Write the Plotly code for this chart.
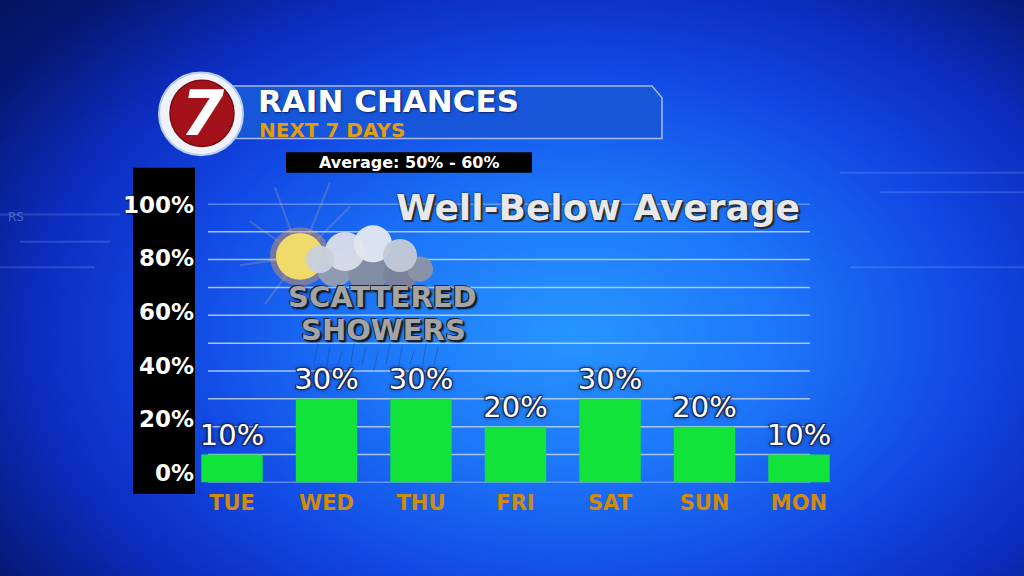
import base64, struct, zlib
import numpy as np
import plotly.graph_objects as go

# ---------------- data ----------------
days = ["TUE", "WED", "THU", "FRI", "SAT", "SUN", "MON"]
rain_chance = [10, 30, 30, 20, 30, 20, 10]
ytick_vals = [0, 20, 40, 60, 80, 100]
ytick_text = ["0%", "20%", "40%", "60%", "80%", "100%"]
grid_vals = [0, 10, 20, 30, 40, 50, 60, 70, 80, 90, 100]

W, H = 1024, 576
def px(x):
    return x / W
def py(y):
    return 1 - y / H

# ---------------- background gradient image ----------------
def make_png(arr):
    h, w, _ = arr.shape
    raw = b"".join(b"\x00" + arr[r].tobytes() for r in range(h))
    def chunk(tag, data):
        c = struct.pack(">I", len(data)) + tag + data
        return c + struct.pack(">I", zlib.crc32(tag + data) & 0xffffffff)
    ihdr = struct.pack(">IIBBBBB", w, h, 8, 2, 0, 0, 0)
    return (b"\x89PNG\r\n\x1a\n" + chunk(b"IHDR", ihdr)
            + chunk(b"IDAT", zlib.compress(raw, 9)) + chunk(b"IEND", b""))

IMG_X0, IMG_Y1, IMG_SX, IMG_SY = -0.03, 1.05, 1.06, 1.10
bw, bh = 256, 144
gx, gy = np.meshgrid(np.linspace(0, 1, bw), np.linspace(0, 1, bh))
rx = IMG_X0 + gx * IMG_SX                 # real paper x (0..1 left->right)
ry = (1 - IMG_Y1) + gy * IMG_SY           # real distance from top (0..1)
d = np.sqrt(((rx - 0.56) / 0.56) ** 2 + ((ry - 0.57) / 0.68) ** 2)
stops_d = [0.0, 0.35, 0.7, 0.95, 1.2, 1.6]
stops_c = np.array([[40, 150, 255], [30, 120, 250], [18, 72, 228],
                    [12, 45, 190], [6, 24, 115], [3, 10, 55]], dtype=float)
img = np.zeros((bh, bw, 3))
for ch in range(3):
    img[..., ch] = np.interp(d, stops_d, stops_c[:, ch])
img = np.clip(img, 0, 255).astype(np.uint8)
bg_src = "data:image/png;base64," + base64.b64encode(make_png(img)).decode()

# ---------------- figure ----------------
fig = go.Figure()

label_shadow = ("-1px -1px 0 #1a2a55, 1px -1px 0 #1a2a55, -1px 1px 0 #1a2a55, "
                "1px 1px 0 #1a2a55, 0 0 4px #000")

fig.add_trace(go.Bar(
    x=days, y=rain_chance, width=0.65,
    marker=dict(color="#12E33B", line=dict(width=0)),
    text=[f"{v}%" for v in rain_chance], textposition="outside",
    constraintext="none", cliponaxis=False,
    textfont=dict(family="DejaVu Sans", size=29, color="white", shadow=label_shadow),
    hoverinfo="skip", showlegend=False,
))

shapes = []
# faint HUD decorations in background
for (x0, y0, x1, y1) in [(0, 208, 120, 208), (0, 262, 95, 262), (20, 236, 110, 236),
                         (840, 165, 1024, 165), (880, 185, 1024, 185), (850, 262, 1024, 262)]:
    shapes.append(dict(type="line", xref="paper", yref="paper",
                       x0=px(x0), y0=py(y0), x1=px(x1), y1=py(y1),
                       line=dict(color="rgba(150,180,255,0.22)", width=2), layer="below"))

# black y-axis panel
shapes.append(dict(type="rect", xref="paper", yref="paper",
                   x0=px(133), x1=px(195), y0=py(495), y1=py(160),
                   fillcolor="black", line=dict(width=0), layer="below"))
# gridlines
for v in grid_vals:
    shapes.append(dict(type="line", xref="paper", yref="y",
                       x0=px(208), x1=px(810), y0=v, y1=v,
                       line=dict(color="rgba(205,220,250,0.8)", width=1.5), layer="below"))

# title panel
pts = [(232, 76), (652, 76), (662, 88), (662, 130), (232, 130)]
path = "M " + " L ".join(f"{px(a):.5f},{py(b):.5f}" for a, b in pts) + " Z"
shapes.append(dict(type="path", xref="paper", yref="paper", path=path,
                   fillcolor="#1756D8", line=dict(color="#A9BCE6", width=1.5), layer="below"))
# logo
shapes.append(dict(type="circle", xref="paper", yref="paper",
                   x0=px(159), x1=px(243), y0=py(147), y1=py(62),
                   fillcolor="#EEF3FA", line=dict(color="#B8CCEE", width=2), layer="above"))
shapes.append(dict(type="circle", xref="paper", yref="paper",
                   x0=px(170), x1=px(234), y0=py(138), y1=py(70),
                   fillcolor="#A3121A", line=dict(color="#7A0A10", width=1.5), layer="above"))
# average box
shapes.append(dict(type="rect", xref="paper", yref="paper",
                   x0=px(286), x1=px(532), y0=py(165), y1=py(144),
                   fillcolor="black", line=dict(width=0), layer="above"))

# sun rays + sun
for (ax, ay) in [(275, 180), (250, 215), (240, 260), (350, 200), (330, 175), (265, 300)]:
    shapes.append(dict(type="line", xref="paper", yref="paper",
                       x0=px(300), y0=py(251), x1=px(ax), y1=py(ay),
                       line=dict(color="rgba(255,190,120,0.22)", width=2), layer="above"))
shapes.append(dict(type="circle", xref="paper", yref="paper",
                   x0=px(270), x1=px(330), y0=py(281), y1=py(221),
                   fillcolor="rgba(255,160,60,0.40)", line=dict(width=0), layer="above"))
shapes.append(dict(type="circle", xref="paper", yref="paper",
                   x0=px(276), x1=px(324), y0=py(275), y1=py(227),
                   fillcolor="#F0DA6A", line=dict(width=0), layer="above"))
# cloud puffs
for (cx, cy, r, col) in [(335, 264, 18, "rgba(150,158,175,0.95)"),
                         (368, 268, 20, "rgba(135,142,160,0.95)"),
                         (400, 270, 17, "rgba(125,132,150,0.95)"),
                         (420, 264, 13, "rgba(140,148,165,0.95)"),
                         (345, 246, 20, "rgba(215,220,232,0.97)"),
                         (373, 238, 19, "rgba(225,229,238,0.97)"),
                         (400, 250, 17, "rgba(195,200,215,0.97)"),
                         (320, 254, 14, "rgba(200,206,220,0.97)")]:
    shapes.append(dict(type="circle", xref="paper", yref="paper",
                       x0=px(cx - r), x1=px(cx + r), y0=py(cy + r), y1=py(cy - r),
                       fillcolor=col, line=dict(width=0), layer="above"))
# rain streaks
for i, sx in enumerate(range(318, 440, 12)):
    shapes.append(dict(type="line", xref="paper", yref="paper",
                       x0=px(sx), y0=py(340 + (i % 3) * 4), x1=px(sx - 4), y1=py(362 + (i % 2) * 6),
                       line=dict(color="rgba(40,60,110,0.4)", width=1), layer="above"))

annotations = [
    dict(text="RAIN CHANCES", x=px(256), y=py(91), xanchor="left", yanchor="middle",
         font=dict(family="DejaVu Sans", size=31, color="white", weight="bold",
                   shadow="1px 1px 2px #0a2060")),
    dict(text="NEXT 7 DAYS", x=px(257), y=py(121), xanchor="left", yanchor="middle",
         font=dict(family="DejaVu Sans", size=20, color="#E39C10", weight="bold")),
    dict(text="7", x=px(203), y=py(104), xanchor="center", yanchor="middle",
         font=dict(family="DejaVu Sans", size=62, color="white", weight="bold", style="italic")),
    dict(text="Average: 50% - 60%", x=px(409), y=py(155), xanchor="center", yanchor="middle",
         font=dict(family="DejaVu Sans", size=16, color="white", weight="bold")),
    dict(text="Well-Below Average", x=px(598), y=py(201), xanchor="center", yanchor="middle",
         font=dict(family="DejaVu Sans", size=36, color="#E6E8EC", weight="bold",
                   shadow="2px 2px 1px #2a2a2a, 0 0 2px #000")),
    dict(text="SCATTERED", x=px(382), y=py(293), xanchor="center", yanchor="middle",
         font=dict(family="DejaVu Sans", size=29, color="#A2A4A8", weight="bold",
                   shadow="-1px -1px 0 #222, 1px 1px 0 #222, 2px 2px 2px #000")),
    dict(text="SHOWERS", x=px(383), y=py(326), xanchor="center", yanchor="middle",
         font=dict(family="DejaVu Sans", size=29, color="#A2A4A8", weight="bold",
                   shadow="-1px -1px 0 #222, 1px 1px 0 #222, 2px 2px 2px #000")),
    dict(text="RS", x=px(6), y=py(210), xanchor="left", yanchor="middle",
         font=dict(family="DejaVu Sans", size=12, color="rgba(150,180,255,0.45)")),
]
for a in annotations:
    a.update(xref="paper", yref="paper", showarrow=False)

y_bottom, y_top = py(483), py(197)
lab0_px, lab100_px = 473, 198
ppu = (lab0_px - lab100_px) / 100.0
y2_range = [-(483 - lab0_px) / ppu, 100 + (lab100_px - 197) / ppu]

fig.update_layout(
    width=W, height=H, margin=dict(l=0, r=0, t=0, b=0),
    paper_bgcolor="#0a2278", plot_bgcolor="rgba(0,0,0,0)",
    images=[dict(source=bg_src, xref="paper", yref="paper", x=IMG_X0, y=IMG_Y1,
                 sizex=IMG_SX, sizey=IMG_SY, sizing="stretch", layer="below",
                 xanchor="left", yanchor="top")],
    xaxis=dict(domain=[px(184.75), px(846.25)], type="category", range=[-0.5, 6.5],
               showgrid=False, zeroline=False, showline=False, ticks="",
               ticklabelstandoff=6,
               tickfont=dict(family="DejaVu Sans", size=21, color="#D18B0B", weight="bold")),
    yaxis=dict(domain=[y_bottom, y_top], range=[0, 100], showgrid=False, zeroline=False,
               showticklabels=False, showline=False),
    yaxis2=dict(overlaying="y", anchor="free", position=px(194), side="left",
                range=y2_range, tickvals=ytick_vals, ticktext=ytick_text,
                showgrid=False, zeroline=False, showline=False, ticks="",
                tickfont=dict(family="DejaVu Sans", size=23, color="white", weight="bold",
                              shadow="1px 1px 2px #000")),
    shapes=shapes, annotations=annotations, bargap=0.35,
)
# invisible trace to activate yaxis2
fig.add_trace(go.Scatter(x=[days[0]], y=[0], yaxis="y2", mode="markers",
                         marker=dict(opacity=0), hoverinfo="skip", showlegend=False))

fig.write_html("out.html", config={"displayModeBar": False},
               post_script="document.body.style.margin='0';document.body.style.overflow='hidden';")
